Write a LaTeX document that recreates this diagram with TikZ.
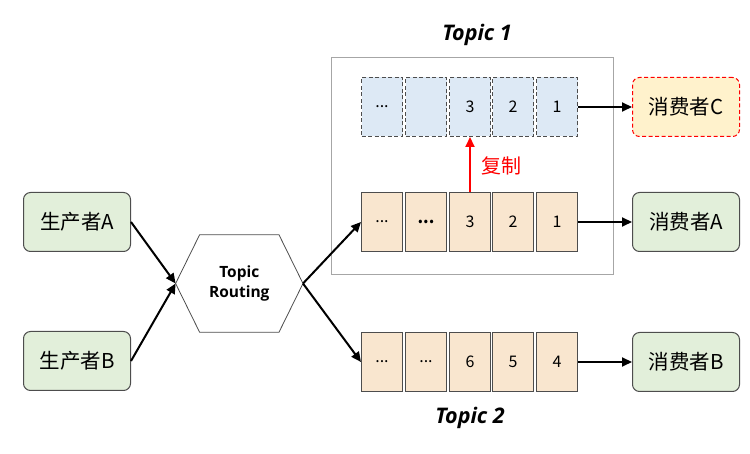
\documentclass[tikz,border=0pt]{standalone}
\usepackage{fontspec}
\setmainfont{Noto Sans CJK SC}
\newfontfamily\latinfont{Open Sans}
\usetikzlibrary{arrows.meta}
\definecolor{prodfill}{HTML}{E2EFDA}
\definecolor{boxline}{HTML}{4D4D4D}
\definecolor{orangefill}{HTML}{F9E6CF}
\definecolor{bluefill}{HTML}{DDE9F5}
\definecolor{cfill}{HTML}{FFF2CC}
\definecolor{framecol}{HTML}{A6A6A6}
\tikzset{
  actor/.style={draw=boxline, fill=prodfill, rounded corners=7pt, minimum width=107pt, minimum height=59pt, inner sep=0pt, line width=1pt, font=\fontsize{20.5}{24}\selectfont},
  cell/.style={draw=boxline, fill=orangefill, minimum width=41pt, minimum height=59pt, inner sep=0pt, line width=1pt, font=\fontsize{16}{19}\selectfont},
  bluecell/.style={cell, fill=bluefill, dash pattern=on 4pt off 2.5pt},
  arr/.style={-{Triangle[length=10pt,width=9pt]}, line width=2pt, black},
  topiclabel/.style={font=\latinfont\bfseries\itshape\fontsize{21.5}{25}\selectfont},
}
\begin{document}
\begin{tikzpicture}[x=1pt,y=-1pt]
\useasboundingbox (0,0) rectangle (750,454);
% frame
\node[draw=framecol, line width=1pt, minimum width=282.5pt, minimum height=217pt, inner sep=0pt] (frame) at (472.3,166.2) {};
\node[topiclabel] (topic1) at (477,35) {Topic 1};
\node[topiclabel] (topic2) at (470,418) {Topic 2};
% producers
\node[actor] (pa) at (77,222) {生产者A};
\node[actor] (pb) at (77,361) {生产者B};
% hexagon
\node[minimum width=127pt, minimum height=97pt, inner sep=0pt, align=center, font=\latinfont\bfseries\fontsize{15.5}{20}\selectfont] (hex) at (239.3,283.5) {Topic\\Routing};
\draw[draw=boxline, line width=0.8pt] (hex.west) -- ([xshift=24pt]hex.north west) -- ([xshift=-24pt]hex.north east) -- (hex.east) -- ([xshift=-24pt]hex.south east) -- ([xshift=24pt]hex.south west) -- cycle;
% topic 1 replica row
\node[bluecell] (ta1) at (382,107) {...};
\node[bluecell] (ta2) at (426,107) {};
\node[bluecell] (ta3) at (470,107) {3};
\node[bluecell] (ta4) at (513,107) {2};
\node[bluecell] (ta5) at (557,107) {1};
% topic 1 main row
\node[cell] (tb1) at (382,222) {...};
\node[cell] (tb2) at (426,222) {\textbf{...}};
\node[cell] (tb3) at (470,222) {3};
\node[cell] (tb4) at (513,222) {2};
\node[cell] (tb5) at (557,222) {1};
% topic 2 row
\node[cell] (tc1) at (382,362) {...};
\node[cell] (tc2) at (426,362) {...};
\node[cell] (tc3) at (470,362) {6};
\node[cell] (tc4) at (513,362) {5};
\node[cell] (tc5) at (557,362) {4};
% consumers
\node[actor, fill=cfill, draw=red, dash pattern=on 4pt off 2.5pt] (cc) at (686,107) {消费者C};
\node[actor] (ca) at (686,222) {消费者A};
\node[actor] (cb) at (686,362) {消费者B};
% connectors
\draw[arr] (pa.east) -- (hex.west);
\draw[arr] (pb.east) -- (hex.west);
\draw[arr] (hex.east) -- (tb1.west);
\draw[arr] (hex.east) -- (tc1.west);
\draw[arr] (ta5.east) -- (cc.west);
\draw[arr] (tb5.east) -- (ca.west);
\draw[arr] (tc5.east) -- (cb.west);
\draw[arr, draw=red, fill=red] (tb3.north) -- (ta3.south);
\node[anchor=west, text=red, font=\fontsize{20}{22}\selectfont, inner sep=0pt] (copy) at (481,166) {复制};
\end{tikzpicture}
\end{document}
